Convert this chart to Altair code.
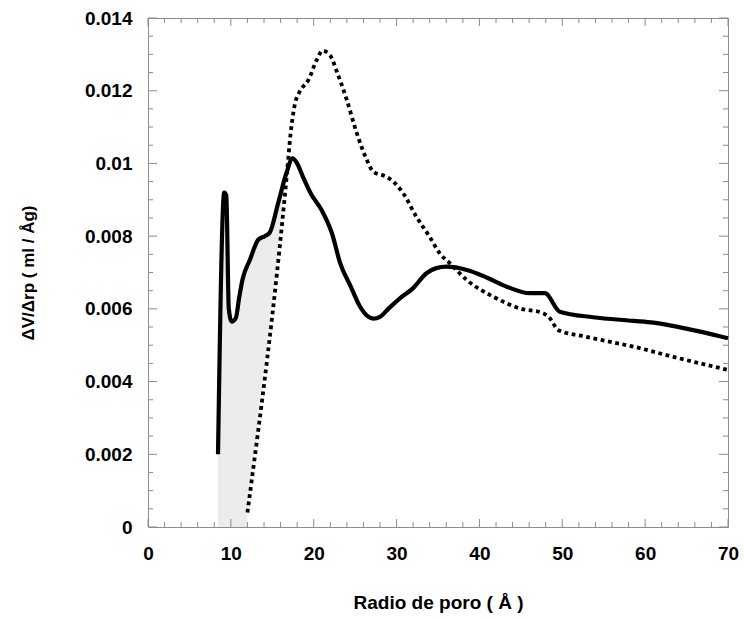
import altair as alt
import pandas as pd

# Solid curve
solid_x = [8.45, 9.2, 9.45, 9.75, 10.1, 10.6, 11.0, 11.4, 12.3, 13.3, 14.1, 14.7, 15.7, 16.7,
           17.45, 18.0, 18.7, 19.75, 20.95, 22.2, 23.2, 24.5, 25.5, 26.5, 27.2, 28.0, 29.0,
           30.4, 32.0, 33.6, 34.8, 36.0, 38.5, 41.0, 43.3, 46.1, 47.9, 49.7, 53.7, 58.6,
           61.0, 63.8, 70.0]
solid_y = [0.00200, 0.00920, 0.00912, 0.00600, 0.00565, 0.00575, 0.00630, 0.00680, 0.00735,
           0.00790, 0.00800, 0.00810, 0.00890, 0.00973, 0.01014, 0.01000, 0.00963, 0.00913,
           0.00872, 0.00808, 0.00725, 0.00660, 0.00610, 0.00580, 0.00573, 0.00578, 0.00600,
           0.00629, 0.00657, 0.00698, 0.00712, 0.00716, 0.00707, 0.00685, 0.00661, 0.00643,
           0.00643, 0.00592, 0.00577, 0.00567, 0.00562, 0.00551, 0.00519]

# Dotted curve
dot_x = [12.0, 16.8, 17.2, 17.7, 18.3, 19.35, 20.35, 21.05, 21.96, 22.8, 24.0, 25.2, 26.4,
         27.2, 28.8, 29.6, 30.8, 32.4, 34.0, 35.2, 36.45, 38.5, 41.7, 44.9, 47.7, 48.5,
         49.5, 52.9, 58.6, 63.4, 70.0]
dot_y = [0.00040, 0.00980, 0.01080, 0.01160, 0.01197, 0.01229, 0.01284, 0.01310, 0.01298,
         0.01252, 0.01174, 0.01083, 0.01010, 0.00977, 0.00963, 0.00950, 0.00918, 0.00853,
         0.00798, 0.00753, 0.00725, 0.00679, 0.00633, 0.00601, 0.00588, 0.00574, 0.00542,
         0.00523, 0.00496, 0.00468, 0.00432]

# Shaded region (solid curve up to the crossing; dotted masks below)
fill_end = 14  # number of solid points before the crossing
mask_end = 4   # number of dotted points until past the crossing

x_major = [0, 10, 20, 30, 40, 50, 60, 70]
x_minor = [v for v in range(0, 71, 2) if v % 10 != 0]
y_major = [0, 0.002, 0.004, 0.006, 0.008, 0.010, 0.012, 0.014]
y_minor = [round(i * 0.0005, 4) for i in range(29) if i % 4 != 0]

W, H = 580, 509
FONT = "Liberation Sans"
TICK = "#8c8c8c"

solid = pd.DataFrame({"x": solid_x, "y": solid_y})
dotted = pd.DataFrame({"x": dot_x, "y": dot_y})
fill = pd.DataFrame({"x": solid_x[:fill_end], "y": solid_y[:fill_end]})
mask = pd.DataFrame({"x": dot_x[:mask_end], "y": dot_y[:mask_end]})

xs = alt.Scale(domain=[0, 70], nice=False)
ys = alt.Scale(domain=[0, 0.014], nice=False)

X = alt.X("x:Q", scale=xs, axis=alt.Axis(values=x_major, title="Radio de poro ( Å )",
                                          titleY=81, titleBaseline="alphabetic",
                                          titleFontSize=19))
Y = alt.Y("y:Q", scale=ys, axis=alt.Axis(values=y_major, format="~g",
                                          title="ΔV/Δrp ( ml / Åg)",
                                          titleX=-120, titleY=H / 2, titleBaseline="middle",
                                          titleAlign="center", titleAngle=270,
                                          titleFontSize=17))

gray = alt.Chart(fill).mark_area(color="#ececec", interpolate="monotone").encode(x=X, y=Y)
white = alt.Chart(mask).mark_area(color="white").encode(x=X, y=Y)
line_solid = alt.Chart(solid).mark_line(color="black", strokeWidth=4.2, interpolate="monotone",
                                        strokeJoin="round").encode(x=X, y=Y)
line_dot = alt.Chart(dotted).mark_line(color="black", strokeWidth=3.8, interpolate="monotone",
                                       strokeDash=[3.8, 3.6], strokeCap="butt").encode(x=X, y=Y)

def xt(vals, L):
    d = pd.DataFrame({"x": vals})
    b = alt.Chart(d).mark_rule(color=TICK, strokeWidth=1).encode(
        x=X, y=alt.value(H), y2=alt.value(H - L))
    t = alt.Chart(d).mark_rule(color=TICK, strokeWidth=1).encode(
        x=X, y=alt.value(0), y2=alt.value(L))
    return [b, t]

def yt(vals, L):
    d = pd.DataFrame({"y": vals})
    l = alt.Chart(d).mark_rule(color=TICK, strokeWidth=1).encode(
        y=Y, x=alt.value(0), x2=alt.value(L))
    r = alt.Chart(d).mark_rule(color=TICK, strokeWidth=1).encode(
        y=Y, x=alt.value(W), x2=alt.value(W - L))
    return [l, r]

layers = [gray, white, line_solid, line_dot] + xt(x_major, 8) + xt(x_minor, 5) + yt(y_major, 9) + yt(y_minor, 5)

chart = alt.layer(*layers).properties(
    width=W, height=H,
    autosize=alt.AutoSizeParams(type="none"),
    padding={"left": 148, "top": 18, "right": 16, "bottom": 92},
).configure_view(stroke=TICK, strokeWidth=1).configure_axis(
    grid=False, ticks=False, tickSize=0, domain=False, labelFlush=False, labelOverlap=False,
    labelFont=FONT, labelFontSize=19, labelFontWeight="bold", labelColor="black",
    titleFont=FONT, titleFontSize=18, titleFontWeight="bold", titleColor="black",
).configure_axisX(labelPadding=17).configure_axisY(labelPadding=16)

chart.save("out.html", embed_options={"renderer": "svg", "actions": False})
